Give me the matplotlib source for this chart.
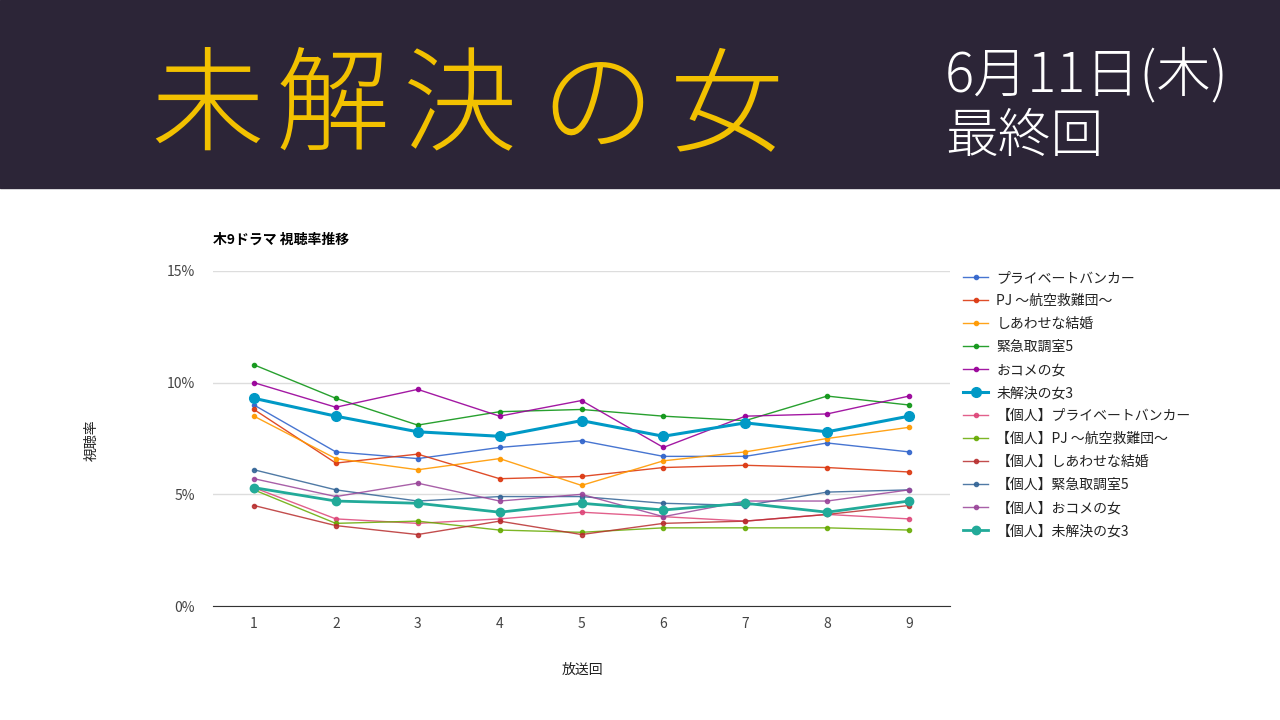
import matplotlib
matplotlib.use("Agg")
import matplotlib.pyplot as plt
from matplotlib.patches import Rectangle

plt.rcParams['font.family'] = ['Noto Sans CJK JP', 'DejaVu Sans']

episodes = [1, 2, 3, 4, 5, 6, 7, 8, 9]

labels = [
    "プライベートバンカー",
    "PJ ～航空救難団～",
    "しあわせな結婚",
    "緊急取調室5",
    "おコメの女",
    "未解決の女3",
    "【個人】プライベートバンカー",
    "【個人】PJ ～航空救難団～",
    "【個人】しあわせな結婚",
    "【個人】緊急取調室5",
    "【個人】おコメの女",
    "【個人】未解決の女3",
]

banker = [9.0, 6.9, 6.6, 7.1, 7.4, 6.7, 6.7, 7.3, 6.9]
pj = [8.8, 6.4, 6.8, 5.7, 5.8, 6.2, 6.3, 6.2, 6.0]
shiawase = [8.5, 6.6, 6.1, 6.6, 5.4, 6.5, 6.9, 7.5, 8.0]
kinkyu = [10.8, 9.3, 8.1, 8.7, 8.8, 8.5, 8.3, 9.4, 9.0]
okome = [10.0, 8.9, 9.7, 8.5, 9.2, 7.1, 8.5, 8.6, 9.4]
mikaiketsu = [9.3, 8.5, 7.8, 7.6, 8.3, 7.6, 8.2, 7.8, 8.5]
p_banker = [5.3, 3.9, 3.7, 3.9, 4.2, 4.0, 3.8, 4.1, 3.9]
p_pj = [5.2, 3.7, 3.8, 3.4, 3.3, 3.5, 3.5, 3.5, 3.4]
p_shiawase = [4.5, 3.6, 3.2, 3.8, 3.2, 3.7, 3.8, 4.1, 4.5]
p_kinkyu = [6.1, 5.2, 4.7, 4.9, 4.9, 4.6, 4.5, 5.1, 5.2]
p_okome = [5.7, 4.9, 5.5, 4.7, 5.0, 4.0, 4.7, 4.7, 5.2]
p_mikaiketsu = [5.3, 4.7, 4.6, 4.2, 4.6, 4.3, 4.6, 4.2, 4.7]

series = [banker, pj, shiawase, kinkyu, okome, mikaiketsu,
          p_banker, p_pj, p_shiawase, p_kinkyu, p_okome, p_mikaiketsu]
colors = ["#3366cc", "#dc3912", "#ff9900", "#109618", "#990099", "#0099c6",
          "#dd4477", "#66aa00", "#b82e2e", "#316395", "#994499", "#22aa99"]

fig = plt.figure(figsize=(12.8, 7.2), dpi=100)

# header band
fig.patches.append(Rectangle((0, 1 - 188 / 720), 1, 188 / 720, transform=fig.transFigure,
                             color="#2c2537", zorder=0))
title_chars = ["未", "解", "決", "の", "女"]
title_x = [207, 333, 460, 597, 727]
for ch, x in zip(title_chars, title_x):
    fig.text(x / 1280, 1 - 110 / 720, ch, color="#f2c100", fontsize=82,
             fontweight="light", ha="center", va="center")
fig.text(945 / 1280, 1 - 76 / 720, "6月11日(木)", color="white", fontsize=39,
         fontweight="light", ha="left", va="center")
fig.text(945 / 1280, 1 - 137 / 720, "最終回", color="white", fontsize=38,
         fontweight="light", ha="left", va="center")

ax = fig.add_axes([213 / 1280, 1 - 606 / 720, 737 / 1280, 335 / 720])
for i, (vals, lab, c) in enumerate(zip(series, labels, colors)):
    if i == 5:
        ax.plot(episodes, vals, color=c, lw=2.2, marker="o", ms=7, label=lab, zorder=5)
    elif i == 11:
        ax.plot(episodes, vals, color=c, lw=2.0, marker="o", ms=6, label=lab, zorder=4)
    else:
        ax.plot(episodes, vals, color=c, lw=1.0, marker="o", ms=3, label=lab,
                alpha=0.85 if i >= 6 else 0.9, zorder=3)

ax.set_xlim(0.5, 9.5)
ax.set_ylim(0, 15)
ax.set_xticks(episodes)
ax.set_yticks([0, 5, 10, 15])
ax.set_yticklabels(["0%", "5%", "10%", "15%"])
ax.grid(axis="y", color="#dddddd", lw=1)
ax.set_axisbelow(True)
for s in ["top", "right", "left"]:
    ax.spines[s].set_visible(False)
ax.spines["bottom"].set_color("#333333")
ax.tick_params(length=0, labelsize=10, colors="#444444", pad=8)
ax.tick_params(axis="y", pad=13)

fig.text(213 / 1280, 1 - 240 / 720, "木9ドラマ 視聴率推移", fontsize=10, fontweight="bold",
         color="#000000", ha="left", va="center")
fig.text(92 / 1280, 1 - 440 / 720, "視聴率", fontsize=10, style="italic", rotation=90,
         color="#222222", ha="center", va="center")
fig.text(582 / 1280, 1 - 670 / 720, "放送回", fontsize=10, style="italic",
         color="#222222", ha="center", va="center")

leg = ax.legend(loc="upper left", bbox_to_anchor=(963 / 1280, 1 - 271 / 720),
                bbox_transform=fig.transFigure, frameon=False, fontsize=10,
                handlelength=1.8, handletextpad=0.6, labelspacing=0.65, borderaxespad=0,
                borderpad=0)
for t in leg.get_texts():
    t.set_color("#222222")

fig.savefig("out.png", dpi=100)
